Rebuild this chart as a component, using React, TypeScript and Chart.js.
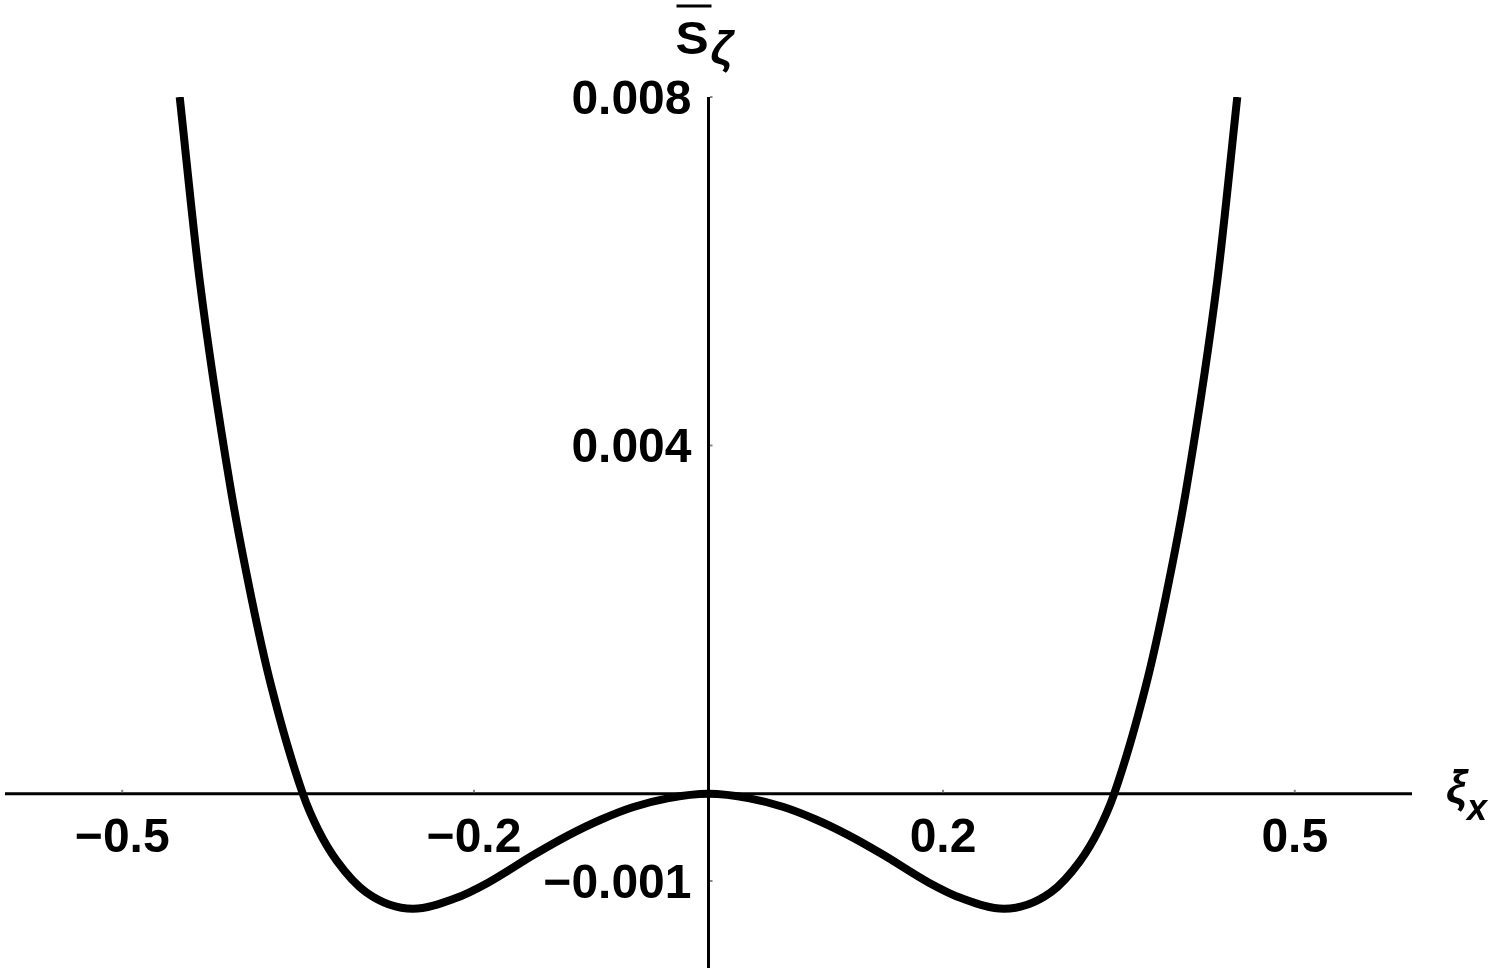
import React, { useEffect, useRef } from "react";
import { Chart, registerables } from "chart.js";

Chart.register(...registerables);

// Curve samples
const xValues = [
  -0.451, -0.434, -0.408, -0.39, -0.373, -0.346, -0.333, -0.317, -0.292, -0.252,
  -0.216, -0.188, -0.149, -0.12, -0.092, -0.064, -0.035, 0, 0.035, 0.064, 0.092,
  0.12, 0.149, 0.188, 0.216, 0.252, 0.292, 0.317, 0.333, 0.346, 0.373, 0.39,
  0.408, 0.434, 0.451,
];
const yValues = [
  0.008, 0.0059, 0.00354, 0.00226, 0.00124, 0, -0.00041, -0.00077, -0.00113,
  -0.00132, -0.0012, -0.00102, -0.0007, -0.00048, -0.000298, -0.000152,
  -0.000052, 0, -0.000052, -0.000152, -0.000298, -0.00048, -0.0007, -0.00102,
  -0.0012, -0.00132, -0.00113, -0.00077, -0.00041, 0, 0.00124, 0.00226,
  0.00354, 0.0059, 0.008,
];

const xTickValues = [-0.5, -0.2, 0.2, 0.5];
const xTickLabels = ["\u22120.5", "\u22120.2", "0.2", "0.5"];
const yTickValues = [0.008, 0.004, -0.001];
const yTickLabels = ["0.008", "0.004", "\u22120.001"];

const xRange = [-0.6, 0.6];
const yRange = [-0.002, 0.008];

const FONT = '"Liberation Sans", Arial, sans-serif';

const axesPlugin = {
  id: "mathAxes",
  beforeDatasetsDraw(chart: any) {
    const { ctx, chartArea, scales } = chart;
    const xs = scales.x;
    const ys = scales.y;
    const x0 = xs.getPixelForValue(0);
    const y0 = ys.getPixelForValue(0);
    ctx.save();
    ctx.strokeStyle = "#000";
    ctx.lineWidth = 3;
    ctx.beginPath();
    ctx.moveTo(chartArea.left, y0);
    ctx.lineTo(chartArea.right, y0);
    ctx.moveTo(x0, chartArea.top);
    ctx.lineTo(x0, chartArea.bottom);
    ctx.stroke();
    // small ticks
    ctx.strokeStyle = "#888";
    ctx.lineWidth = 2;
    ctx.beginPath();
    xTickValues.forEach((v) => {
      const px = xs.getPixelForValue(v);
      ctx.moveTo(px, y0 - 1.5);
      ctx.lineTo(px, y0 - 4);
    });
    yTickValues.forEach((v) => {
      const py = ys.getPixelForValue(v);
      ctx.moveTo(x0 + 1.5, py);
      ctx.lineTo(x0 + 4, py);
    });
    ctx.stroke();
    ctx.restore();
  },
  afterDraw(chart: any) {
    const { ctx, scales } = chart;
    const xs = scales.x;
    const ys = scales.y;
    const x0 = xs.getPixelForValue(0);
    const y0 = ys.getPixelForValue(0);
    ctx.save();
    ctx.fillStyle = "#000";
    ctx.font = `bold 48px ${FONT}`;
    ctx.textBaseline = "alphabetic";
    ctx.textAlign = "center";
    xTickValues.forEach((v, i) => {
      ctx.fillText(xTickLabels[i], xs.getPixelForValue(v), y0 + 58);
    });
    ctx.textAlign = "right";
    yTickValues.forEach((v, i) => {
      ctx.fillText(yTickLabels[i], x0 - 17, ys.getPixelForValue(v) + 17);
    });

    // y axis label: S-bar with subscript zeta
    ctx.textAlign = "left";
    ctx.save();
    ctx.translate(x0 - 33, 54);
    ctx.scale(1.08, 1);
    ctx.font = `bold 46px ${FONT}`;
    ctx.fillText("S", 0, 0);
    ctx.restore();
    ctx.fillRect(x0 - 32, 4.5, 35, 3);
    ctx.font = `italic bold 46px ${FONT}`;
    ctx.fillText("\u03B6", x0 + 2, 64);

    // x axis label: xi with subscript x
    ctx.font = `italic bold 46px ${FONT}`;
    ctx.fillText("\u03BE", 1446, 803);
    ctx.font = `italic bold 36px ${FONT}`;
    ctx.fillText("x", 1467, 820);
    ctx.restore();
  },
};

export default function App() {
  const canvasRef = useRef<HTMLCanvasElement | null>(null);

  useEffect(() => {
    if (!canvasRef.current) return;
    const points = xValues.map((x, i) => ({ x, y: yValues[i] }));
    const chart = new Chart(canvasRef.current, {
      type: "scatter",
      data: {
        datasets: [
          {
            data: points,
            showLine: true,
            borderColor: "#000",
            borderWidth: 8,
            pointRadius: 0,
            cubicInterpolationMode: "monotone",
            fill: false,
          } as any,
        ],
      },
      options: {
        animation: false,
        responsive: false,
        devicePixelRatio: 1,
        layout: { padding: { left: 5, right: 88, top: 97, bottom: 4 } },
        plugins: {
          legend: { display: false },
          tooltip: { enabled: false },
          title: { display: false },
        },
        scales: {
          x: { type: "linear", min: xRange[0], max: xRange[1], display: false },
          y: { type: "linear", min: yRange[0], max: yRange[1], display: false },
        },
      },
      plugins: [axesPlugin],
    });
    return () => chart.destroy();
  }, []);

  return (
    <div
      style={{
        position: "fixed",
        left: 0,
        top: 0,
        width: 1500,
        height: 972,
        background: "#fff",
      }}
    >
      <canvas ref={canvasRef} width={1500} height={972} />
    </div>
  );
}
